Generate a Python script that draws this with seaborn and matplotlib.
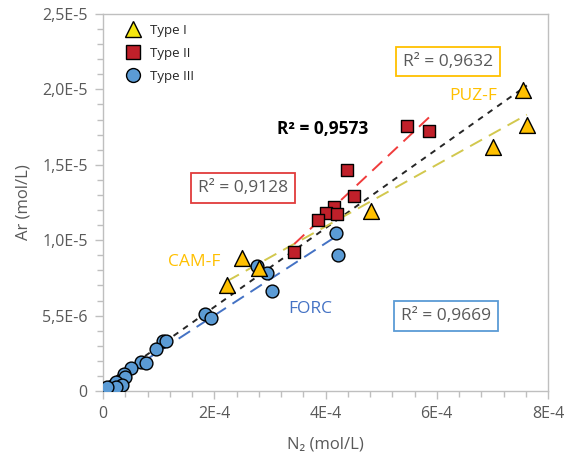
import numpy as np
import pandas as pd
import seaborn as sns
import matplotlib
matplotlib.use("Agg")
import matplotlib.pyplot as plt
from matplotlib.lines import Line2D

# ---- data ----
type1_n2 = [2.50e-4, 2.23e-4, 2.81e-4, 4.81e-4, 7.01e-4, 7.55e-4, 7.62e-4]
type1_ar = [8.82e-6, 7.03e-6, 8.16e-6, 1.194e-5, 1.618e-5, 1.996e-5, 1.764e-5]

type2_n2 = [5.46e-4, 5.86e-4, 4.38e-4, 4.52e-4, 4.15e-4, 4.00e-4, 4.20e-4, 3.87e-4, 3.44e-4]
type2_ar = [1.757e-5, 1.724e-5, 1.465e-5, 1.293e-5, 1.220e-5, 1.180e-5, 1.174e-5, 1.134e-5, 9.22e-6]

type3_n2 = [4.18e-4, 4.23e-4, 2.77e-4, 2.95e-4, 3.03e-4, 1.84e-4, 1.95e-4, 1.08e-4, 1.14e-4,
            0.955e-4, 0.685e-4, 0.77e-4, 0.50e-4, 0.38e-4, 0.40e-4, 0.23e-4, 0.34e-4, 0.23e-4, 0.07e-4]
type3_ar = [1.048e-5, 9.02e-6, 8.29e-6, 7.82e-6, 6.63e-6, 5.11e-6, 4.84e-6, 3.32e-6, 3.32e-6,
            2.79e-6, 1.92e-6, 1.86e-6, 1.53e-6, 1.13e-6, 0.93e-6, 0.60e-6, 0.40e-6, 0.27e-6, 0.27e-6]

type_names = ["Type I", "Type II", "Type III"]
r2_labels = ["R² = 0,9632", "R² = 0,9128", "R² = 0,9669", "R² = 0,9573"]
group_labels = ["PUZ-F", "CAM-F", "FORC"]

x_ticks = [0, 2e-4, 4e-4, 6e-4, 8e-4]
x_ticklabels = ["0", "2E-4", "4E-4", "6E-4", "8E-4"]
y_ticks = [0, 5e-6, 1e-5, 1.5e-5, 2e-5, 2.5e-5]
y_ticklabels = ["0", "5,5E-6", "1,0E-5", "1,5E-5", "2,0E-5", "2,5E-5"]

df1 = pd.DataFrame({"N2": type1_n2, "Ar": type1_ar})
df2 = pd.DataFrame({"N2": type2_n2, "Ar": type2_ar})
df3 = pd.DataFrame({"N2": type3_n2, "Ar": type3_ar})
df_all = pd.concat([df1, df2, df3], ignore_index=True)

# ---- style ----
sns.set_theme(style="white")
plt.rcParams["font.family"] = ["Open Sans", "DejaVu Sans"]

GRAY_TXT = "#595959"
AX_GRAY = "#BFBFBF"
GOLD = "#FFC000"
RED = "#C0202A"
BLUE = "#5B9BD5"

fig = plt.figure(figsize=(5.72, 4.67), dpi=100)
ax = fig.add_axes([103 / 572, 1 - 391 / 467, (548 - 103) / 572, (391 - 14) / 467])

# trend lines
sns.regplot(data=df_all, x="N2", y="Ar", scatter=False, ci=None, truncate=True, ax=ax,
            line_kws=dict(color="#262626", lw=1.4, dashes=(3, 3), zorder=2))
sns.regplot(data=df1, x="N2", y="Ar", scatter=False, ci=None, truncate=True, ax=ax,
            line_kws=dict(color="#D2C84E", lw=1.4, dashes=(7, 4), zorder=2))
sns.regplot(data=df2, x="N2", y="Ar", scatter=False, ci=None, truncate=True, ax=ax,
            line_kws=dict(color="#F03C3C", lw=1.4, dashes=(7, 4), zorder=2))
sns.regplot(data=df3, x="N2", y="Ar", scatter=False, ci=None, truncate=True, ax=ax,
            line_kws=dict(color="#4472C4", lw=1.4, dashes=(7, 4), zorder=2))

# markers
sns.scatterplot(data=df3, x="N2", y="Ar", marker="o", s=85, color=BLUE,
                edgecolor="black", linewidth=1.0, ax=ax, zorder=3)
sns.scatterplot(data=df2, x="N2", y="Ar", marker="s", s=85, color=RED,
                edgecolor="black", linewidth=1.0, ax=ax, zorder=4)
sns.scatterplot(data=df1, x="N2", y="Ar", marker="^", s=130, color=GOLD,
                edgecolor="black", linewidth=1.0, ax=ax, zorder=5)

# axes
ax.set_xlim(0, 8e-4)
ax.set_ylim(0, 2.5e-5)
ax.set_xticks(x_ticks)
ax.set_xticklabels(x_ticklabels)
ax.set_yticks(y_ticks)
ax.set_yticklabels(y_ticklabels)
ax.set_xticks(np.arange(0, 8.01e-4, 0.4e-4), minor=True)
ax.set_yticks(np.arange(0, 2.51e-5, 1e-6), minor=True)
ax.tick_params(axis="both", which="major", direction="out", length=6, width=1,
               color=AX_GRAY, labelcolor=GRAY_TXT, labelsize=11.5, pad=5)
ax.tick_params(axis="both", which="minor", direction="out", length=4, width=1, color=AX_GRAY)
ax.tick_params(axis="x", which="both", bottom=True)
ax.tick_params(axis="y", which="both", left=True)
for sp in ax.spines.values():
    sp.set_color(AX_GRAY)
    sp.set_linewidth(1.0)
    sp.set_visible(True)
ax.set_xlabel("N₂ (mol/L)", color=GRAY_TXT, fontsize=12, labelpad=10)
ax.set_ylabel("Ar (mol/L)", color=GRAY_TXT, fontsize=12, labelpad=8)

# annotations
def box(x, y, s, ec):
    ax.text(x, y, s, ha="center", va="center", fontsize=12.5, color=GRAY_TXT, zorder=6,
            bbox=dict(boxstyle="square,pad=0.4", fc="white", ec=ec, lw=1.3))

box(6.21e-4, 2.185e-5, r2_labels[0], GOLD)
box(2.52e-4, 1.349e-5, r2_labels[1], "#E03C3C")
box(6.16e-4, 4.97e-6, r2_labels[2], BLUE)
ax.text(3.95e-4, 1.737e-5, r2_labels[3], ha="center", va="center", fontsize=12.5,
        fontweight="bold", color="black", zorder=6)
ax.text(6.65e-4, 1.956e-5, group_labels[0], ha="center", va="center", fontsize=12.5, color=GOLD)
ax.text(1.64e-4, 8.55e-6, group_labels[1], ha="center", va="center", fontsize=12.5, color=GOLD)
ax.text(3.73e-4, 5.44e-6, group_labels[2], ha="center", va="center", fontsize=12.5, color="#4472C4")

# legend
handles = [
    Line2D([], [], ls="none", marker="^", ms=11, mfc="#F5E60F", mec="black", mew=1.0),
    Line2D([], [], ls="none", marker="s", ms=10, mfc=RED, mec="black", mew=1.0),
    Line2D([], [], ls="none", marker="o", ms=10, mfc=BLUE, mec="black", mew=1.0),
]
ax.legend(handles, type_names, loc="upper left", bbox_to_anchor=(0.02, 0.995), frameon=False,
          fontsize=9.5, handletextpad=0.3, labelspacing=0.75, borderaxespad=0.2)

fig.savefig("out.png", dpi=100)
